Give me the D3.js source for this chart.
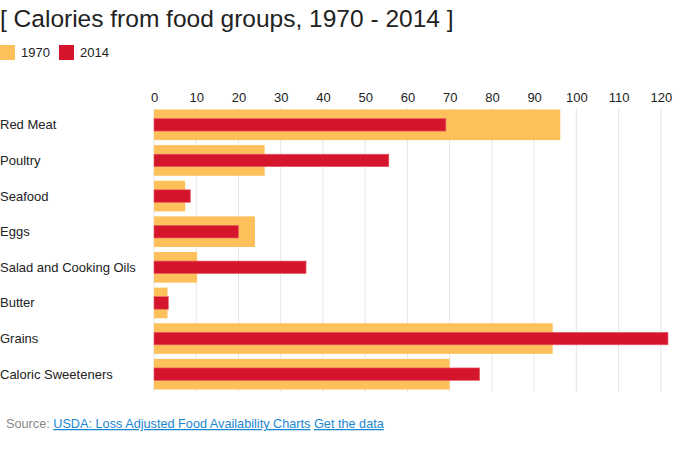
<!DOCTYPE html>
<html>
<head>
<meta charset="utf-8">
<script src="https://cdn.jsdelivr.net/npm/d3@7"></script>
<style>
  body { margin: 0; background: #fff; }
  text { font-family: "Liberation Sans", Arial, Helvetica, sans-serif; }
</style>
</head>
<body>
<svg id="chart" width="680" height="450"></svg>
<script>
// food groups and calories per day
const groups = ["Red Meat", "Poultry", "Seafood", "Eggs", "Salad and Cooking Oils", "Butter", "Grains", "Caloric Sweeteners"];
const cal1970 = [96.2, 26.2, 7.4, 23.9, 10.2, 3.2, 94.4, 70.0];
const cal2014 = [69.1, 55.6, 8.6, 20.0, 36.0, 3.4, 121.7, 77.1];
const xTicks = [0, 10, 20, 30, 40, 50, 60, 70, 80, 90, 100, 110, 120];
const seriesNames = ["1970", "2014"];

const orange = "#fec05b";
const red = "#d5152b";

const svg = d3.select("#chart");

const rows = groups.map((g, i) => ({ group: g, a: cal1970[i], b: cal2014[i] }));

const x = d3.scaleLinear()
  .domain([0, d3.max(cal2014.concat(cal1970))])
  .range([154, 668]);

const y = d3.scaleBand()
  .domain(groups)
  .range([107, 392])
  .paddingInner(0.14)
  .paddingOuter(0.07);

// title
svg.append("text")
  .attr("x", 0)
  .attr("y", 27)
  .attr("font-size", 24.5)
  .attr("fill", "#222")
  .text("[ Calories from food groups, 1970 - 2014 ]");

// legend
const color = d3.scaleOrdinal().domain(seriesNames).range([orange, red]);
const legend = svg.append("g").attr("transform", "translate(0,45)");
let lx = 0;
seriesNames.forEach(s => {
  legend.append("rect")
    .attr("x", lx).attr("y", 0)
    .attr("width", 15).attr("height", 15)
    .attr("fill", color(s));
  legend.append("text")
    .attr("x", lx + 21).attr("y", 12)
    .attr("font-size", 13)
    .attr("fill", "#222")
    .text(s);
  lx += 59;
});

// gridlines
svg.append("g")
  .selectAll("line")
  .data(xTicks)
  .join("line")
    .attr("x1", d => x(d)).attr("x2", d => x(d))
    .attr("y1", 108).attr("y2", 392)
    .attr("stroke", "#e5e5e5")
    .attr("stroke-width", 1);

// axis labels on top
const axis = svg.append("g")
  .attr("transform", "translate(0,102)")
  .call(d3.axisTop(x).tickValues(xTicks).tickSize(0).tickPadding(0));
axis.select(".domain").remove();
axis.selectAll("text")
  .attr("font-size", 13)
  .attr("font-family", "Liberation Sans, Arial, sans-serif")
  .attr("fill", "#222");

// 1970 bars (wide)
svg.append("g")
  .selectAll("rect")
  .data(rows)
  .join("rect")
    .attr("x", x(0))
    .attr("y", d => y(d.group))
    .attr("width", d => x(d.a) - x(0))
    .attr("height", y.bandwidth())
    .attr("fill", orange);

// 2014 bars (narrow, centred)
const redH = 12.5;
svg.append("g")
  .selectAll("rect")
  .data(rows)
  .join("rect")
    .attr("x", x(0))
    .attr("y", d => y(d.group) + (y.bandwidth() - redH) / 2)
    .attr("width", d => x(d.b) - x(0))
    .attr("height", redH)
    .attr("fill", red)
    .attr("stroke", "#e8606b")
    .attr("stroke-width", 0.6);

// category labels
svg.append("g")
  .selectAll("text")
  .data(groups)
  .join("text")
    .attr("x", 0)
    .attr("y", d => y(d) + y.bandwidth() / 2)
    .attr("dy", "0.35em")
    .attr("font-size", 13)
    .attr("fill", "#222")
    .text(d => d);

// source line
const src = svg.append("text")
  .attr("x", 6)
  .attr("y", 428)
  .attr("font-size", 12.7);
src.append("tspan").attr("fill", "#888").text("Source: ");
src.append("tspan").attr("fill", "#1b87d0").attr("text-decoration", "underline")
  .text("USDA: Loss Adjusted Food Availability Charts");
src.append("tspan").attr("fill", "#1b87d0").text(" ");
src.append("tspan").attr("fill", "#1b87d0").attr("text-decoration", "underline")
  .text("Get the data");
</script>
</body>
</html>
